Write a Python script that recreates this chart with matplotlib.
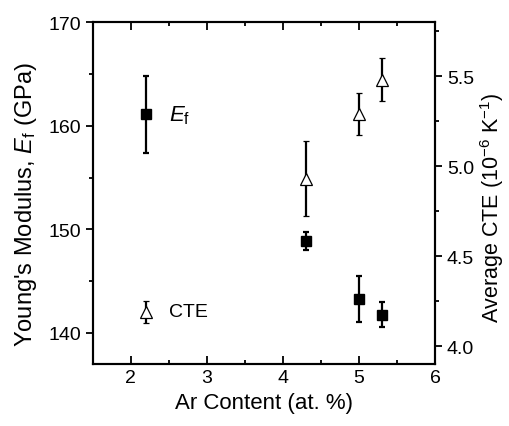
import matplotlib
matplotlib.use("Agg")
import matplotlib.pyplot as plt
from matplotlib.ticker import MultipleLocator

plt.rcParams['font.family'] = ['Liberation Sans', 'DejaVu Sans']
plt.rcParams['mathtext.fontset'] = 'custom'
plt.rcParams['mathtext.rm'] = 'Liberation Sans'
plt.rcParams['mathtext.it'] = 'Liberation Sans:italic'

# Data
ar_content = [2.2, 4.3, 5.0, 5.3]
modulus = [161.1, 148.9, 143.3, 141.75]
modulus_err = [3.7, 0.85, 2.2, 1.2]
cte = [4.19, 4.93, 5.29, 5.48]
cte_err = [0.06, 0.21, 0.115, 0.12]

fig = plt.figure(figsize=(5.1, 4.27), dpi=100)
ax = fig.add_axes([0.182, 0.145, 0.671, 0.801])
ax2 = ax.twinx()

ax.errorbar(ar_content, modulus, yerr=modulus_err, fmt='s', color='black',
            ms=6.5, capsize=2.5, elinewidth=1.6, capthick=1.6)
ax2.errorbar(ar_content, cte, yerr=cte_err, fmt='^', color='black', mfc='white',
             mec='black', mew=0.9, ms=9, capsize=2.5, elinewidth=1.6, capthick=1.6)

ax.set_xlim(1.5, 6)
ax.set_ylim(137, 170)
ax2.set_ylim(3.9, 5.8)

ax.xaxis.set_major_locator(MultipleLocator(1))
ax.xaxis.set_minor_locator(MultipleLocator(0.5))
ax.yaxis.set_major_locator(MultipleLocator(10))
ax.yaxis.set_minor_locator(MultipleLocator(5))
ax2.yaxis.set_major_locator(MultipleLocator(0.5))
ax2.yaxis.set_minor_locator(MultipleLocator(0.25))

ax.tick_params(axis='x', which='both', direction='in', top=True, labelsize=14, width=1.3)
ax.tick_params(axis='x', which='major', length=6)
ax.tick_params(axis='x', which='minor', length=3)
ax.tick_params(axis='y', which='both', direction='out', labelsize=14, width=1.3)
ax.tick_params(axis='y', which='major', length=5)
ax.tick_params(axis='y', which='minor', length=3)
ax2.tick_params(axis='y', which='both', direction='out', labelsize=14, width=1.3)
ax2.tick_params(axis='y', which='major', length=5)
ax2.tick_params(axis='y', which='minor', length=3)
for a in (ax, ax2):
    for s in a.spines.values():
        s.set_linewidth(1.5)

ax.set_xlabel('Ar Content (at. %)', fontsize=16)
ax.set_ylabel(r"Young's Modulus, $E_\mathrm{f}$ (GPa)", fontsize=17, labelpad=7)
ax2.set_ylabel(r"Average CTE (10$^{-6}$ K$^{-1}$)", fontsize=15.5, labelpad=3)
ax.yaxis.label.set_y(0.47)
ax2.yaxis.label.set_y(0.46)

ax.text(2.5, 161.1, r'$E_\mathrm{f}$', fontsize=16, va='center')
ax.text(2.5, 142.1, 'CTE', fontsize=14, va='center')

fig.savefig('out.png', dpi=100)
